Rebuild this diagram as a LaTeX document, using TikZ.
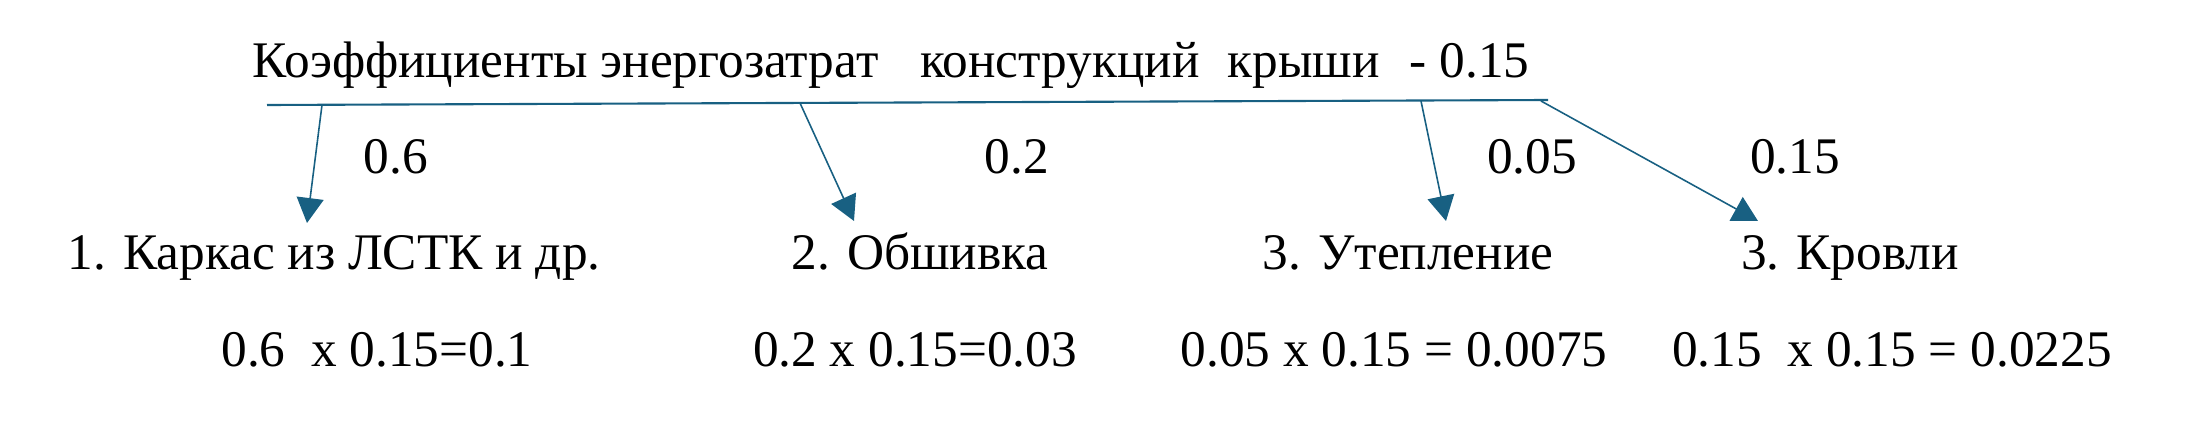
\documentclass[tikz,border=0pt]{standalone}
\usepackage{fontspec}
\setmainfont{Liberation Serif}
\usetikzlibrary{arrows.meta}

\definecolor{linkblue}{RGB}{24,96,130}

\begin{document}
\begin{tikzpicture}[>={Triangle[length=2.5mm,width=2.7mm]},
    lbl/.style={anchor=base,inner sep=0pt,font=\fontsize{14.6}{17}\selectfont},
    link/.style={draw=linkblue,fill=linkblue,line width=0.45pt}]

\useasboundingbox (0,0) rectangle (22.07,-4.30);

\node [lbl] (title) at (8.91,-0.77) {Коэффициенты энергозатрат\hspace{4.2mm}конструкций\hspace{2.8mm}крыши\hspace{3mm}- 0.15};

\node [lbl] (k1) at (3.96,-1.73) {0.6};
\node [lbl] (k2) at (10.17,-1.73) {0.2};
\node [lbl] (k3) at (15.32,-1.73) {0.05};
\node [lbl] (k4) at (17.95,-1.73) {0.15};

\node [lbl] (part1) at (3.34,-2.69) {1. Каркас из ЛСТК и др.};
\node [lbl] (part2) at (9.20,-2.69) {2. Обшивка};
\node [lbl] (part3) at (14.08,-2.69) {3. Утепление};
\node [lbl] (part4) at (18.50,-2.69) {3. Кровли};

\node [lbl] (res1) at (3.77,-3.66) {0.6\ \ x 0.15=0.1};
\node [lbl] (res2) at (9.15,-3.66) {0.2 x 0.15=0.03};
\node [lbl] (res3) at (13.94,-3.66) {0.05 x 0.15 = 0.0075};
\node [lbl] (res4) at (18.92,-3.66) {0.15\ \ x 0.15 = 0.0225};

\coordinate (barL) at (2.67,-1.05);
\coordinate (barR) at (15.48,-1.00);

\coordinate (s1) at (3.22,-1.05);
\coordinate (s2) at (8.00,-1.03);
\coordinate (s3) at (14.21,-1.01);
\coordinate (s4) at (15.41,-1.01);

\coordinate (t1) at (3.07,-2.23);
\coordinate (t2) at (8.54,-2.21);
\coordinate (t3) at (14.46,-2.21);
\coordinate (t4) at (17.58,-2.21);

\path [draw=linkblue,line width=0.6pt]
    (barL) -- (barR)
;

\foreach \i in {1,...,4}
    \path [link,->] (s\i) -- (t\i);

\end{tikzpicture}
\end{document}
